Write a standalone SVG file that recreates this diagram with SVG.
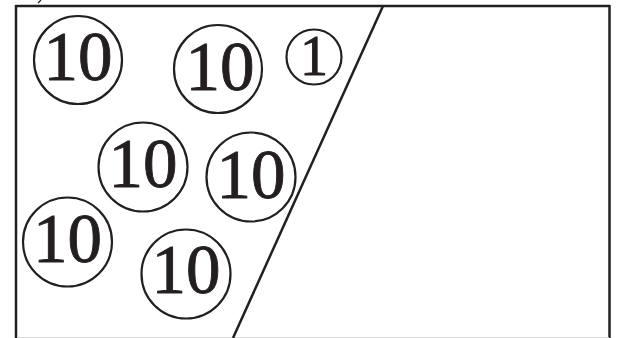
<svg xmlns="http://www.w3.org/2000/svg" width="618" height="338" viewBox="0 0 618 338">
<style>
.c{fill:none;stroke:#231f20;stroke-width:2.2}
.t{font-family:"Liberation Serif","Times New Roman",serif;fill:#231f20;stroke:#231f20;stroke-width:0.9;text-anchor:middle}
.b{font-size:69px}
.s{font-size:56px}
</style>
<rect width="618" height="338" fill="#fff"/>
<g id="frame">
<line x1="15.5" y1="6" x2="610" y2="6" stroke="#231f20" stroke-width="2.5"/>
<line x1="16" y1="5" x2="16" y2="338" stroke="#231f20" stroke-width="2.5"/>
<line x1="609.5" y1="5" x2="609.5" y2="338" stroke="#231f20" stroke-width="2.5"/>
<line x1="17" y1="337.5" x2="609" y2="337.5" stroke="#d8d8d8" stroke-width="1"/>
<path d="M38,3 L41,0" stroke="#231f20" stroke-width="1.2" fill="none"/>
</g>
<g id="connectors">
<line x1="383" y1="6" x2="233" y2="338" stroke="#231f20" stroke-width="2.5"/>
</g>
<g id="n1"><circle class="c" cx="78" cy="60" r="44"/><text class="t b" x="78" y="80">10</text></g>
<g id="n2"><circle class="c" cx="218" cy="69" r="44"/><text class="t b" x="220" y="90">10</text></g>
<g id="n3"><circle class="c" cx="314" cy="57" r="27.5"/><text class="t s" x="314" y="75">1</text></g>
<g id="n4"><circle class="c" cx="143" cy="167" r="44.5"/><text class="t b" x="143" y="187">10</text></g>
<g id="n5"><circle class="c" cx="251" cy="177" r="44.5"/><text class="t b" x="251" y="198">10</text></g>
<g id="n6"><circle class="c" cx="67.5" cy="242" r="44.5"/><text class="t b" x="67.5" y="262">10</text></g>
<g id="n7"><circle class="c" cx="186" cy="274" r="44.5"/><text class="t b" x="186" y="293">10</text></g>
</svg>
